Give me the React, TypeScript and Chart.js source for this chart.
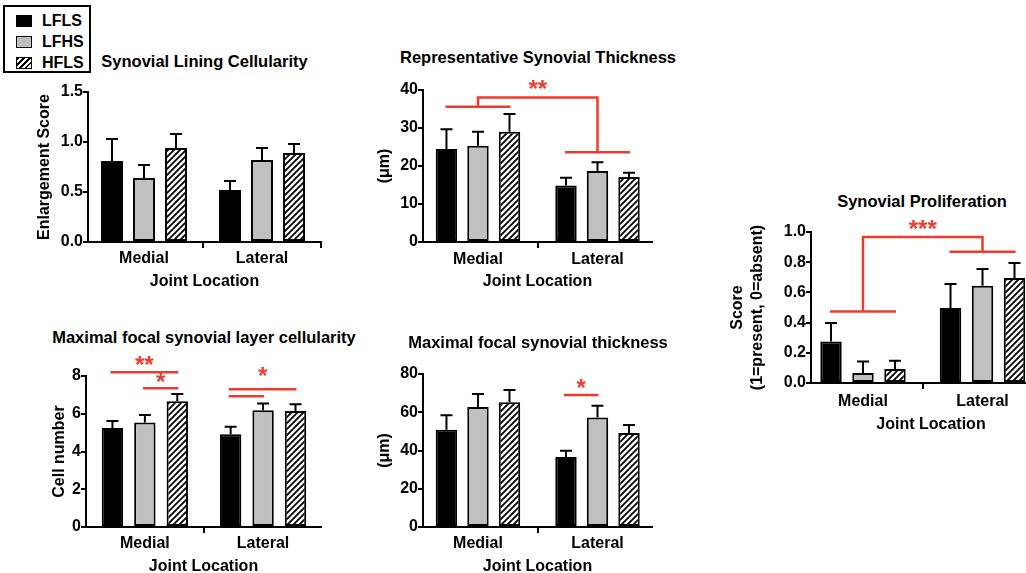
import React, { useEffect, useRef } from 'react';
import { Chart, registerables } from 'chart.js';

Chart.register(...registerables);

const FONT = '"Liberation Sans", Arial, Helvetica, sans-serif';
const RED = '#ef3b2c';
const GRAY = '#c0c0c0';
Chart.defaults.font.family = FONT;

// ---------- data ----------
const groups = ['LFLS', 'LFHS', 'HFLS'];
const locations = ['Medial', 'Lateral'];
const xAxisTitle = 'Joint Location';

// Synovial Lining Cellularity (rows: LFLS, LFHS, HFLS; cols: Medial, Lateral)
const liningMeans = [[0.81, 0.52], [0.64, 0.82], [0.94, 0.89]];
const liningErrors = [[0.22, 0.09], [0.13, 0.12], [0.14, 0.09]];
const liningTicks = [0, 0.5, 1.0, 1.5];

// Representative Synovial Thickness
const thicknessMeans = [[24.5, 14.9], [25.3, 18.7], [29.0, 17.1]];
const thicknessErrors = [[5.2, 2.0], [3.7, 2.3], [4.7, 1.1]];
const thicknessTicks = [0, 10, 20, 30, 40];
const thicknessSig = [{ kind: 'group', y: 38.0, leftY: 35.6, rightY: 23.6, label: '**', labelY: 40.8 }];

// Synovial Proliferation
const prolifMeans = [[0.275, 0.497], [0.066, 0.644], [0.093, 0.695]];
const prolifErrors = [[0.122, 0.159], [0.077, 0.111], [0.055, 0.1]];
const prolifTicks = [0, 0.2, 0.4, 0.6, 0.8, 1.0];
const prolifSig = [{ kind: 'group', y: 0.967, leftY: 0.474, rightY: 0.87, label: '***', labelY: 1.03 }];

// Maximal focal synovial layer cellularity
const focalCellMeans = [[5.24, 4.91], [5.54, 6.19], [6.66, 6.15]];
const focalCellErrors = [[0.37, 0.40], [0.39, 0.35], [0.38, 0.35]];
const focalCellTicks = [0, 2, 4, 6, 8];
const focalCellSig = [
  { kind: 'line', cat: 0, from: 0, to: 2, y: 8.2, label: '**', labelY: 8.67 },
  { kind: 'line', cat: 0, from: 1, to: 2, y: 7.35, label: '*', labelY: 7.77 },
  { kind: 'line', cat: 1, from: 0, to: 2, y: 7.3, label: '*', labelY: 8.12 },
  { kind: 'line', cat: 1, from: 0, to: 1, y: 6.93 },
];

// Maximal focal synovial thickness
const focalThickMeans = [[50.9, 36.6], [62.7, 57.3], [65.2, 49.2]];
const focalThickErrors = [[7.5, 3.3], [6.8, 6.1], [6.4, 4.1]];
const focalThickTicks = [0, 20, 40, 60, 80];
const focalThickSig = [{ kind: 'line', cat: 1, from: 0, to: 1, y: 69.0, label: '*', labelY: 73.5 }];

// ---------- panels (layout kept separate from data) ----------
type Sig = { kind: string; y: number; leftY?: number; rightY?: number; cat?: number; from?: number; to?: number; label?: string; labelY?: number };
type Panel = {
  title: string; yTitle: string | string[]; means: number[][]; errors: number[][]; ticks: number[]; decimals: number; sig: Sig[];
  titleX: number; titleY: number;
  left: number; top: number; width: number; height: number;
  yWidth: number; yTitlePad: number; xHeight: number; xTickPad: number; rightPad: number;
  xMin: number; xMax: number; catPct: number; barPct: number;
};

const TOP_PAD = 20;

const panels: Panel[] = [
  {
    title: 'Synovial Lining Cellularity', yTitle: 'Enlargement Score', means: liningMeans, errors: liningErrors, ticks: liningTicks, decimals: 1, sig: [],
    titleX: 204.5, titleY: 61,
    left: 0, top: 72, width: 330, height: 218, yWidth: 88, yTitlePad: 35.4, xHeight: 48, xTickPad: 3, rightPad: 9,
    xMin: -0.4746, xMax: 1.5, catPct: 0.8136, barPct: 0.6875,
  },
  {
    title: 'Representative Synovial Thickness', yTitle: '(μm)', means: thicknessMeans, errors: thicknessErrors, ticks: thicknessTicks, decimals: 0, sig: thicknessSig,
    titleX: 538, titleY: 57,
    left: 360, top: 70, width: 302, height: 220, yWidth: 63, yTitlePad: 15.4, xHeight: 48, xTickPad: 4, rightPad: 10,
    xMin: -0.46, xMax: 1.456, catPct: 0.791, barPct: 0.68,
  },
  {
    title: 'Synovial Proliferation', yTitle: ['Score', '(1=present, 0=absent)'], means: prolifMeans, errors: prolifErrors, ticks: prolifTicks, decimals: 1, sig: prolifSig,
    titleX: 922, titleY: 200.5,
    left: 720, top: 212, width: 331, height: 221, yWidth: 91, yTitlePad: 8.4, xHeight: 50, xTickPad: 5, rightPad: 0,
    xMin: -0.435, xMax: 1.573, catPct: 0.803, barPct: 0.67,
  },
  {
    title: 'Maximal focal synovial layer cellularity', yTitle: 'Cell number', means: focalCellMeans, errors: focalCellErrors, ticks: focalCellTicks, decimals: 0, sig: focalCellSig,
    titleX: 204, titleY: 337,
    left: 0, top: 356, width: 330, height: 219, yWidth: 86, yTitlePad: 50.4, xHeight: 48, xTickPad: 3, rightPad: 9,
    xMin: -0.498, xMax: 1.49, catPct: 0.823, barPct: 0.66,
  },
  {
    title: 'Maximal focal synovial thickness', yTitle: '(μm)', means: focalThickMeans, errors: focalThickErrors, ticks: focalThickTicks, decimals: 0, sig: focalThickSig,
    titleX: 538, titleY: 342,
    left: 360, top: 354, width: 302, height: 221, yWidth: 63, yTitlePad: 15.4, xHeight: 48, xTickPad: 3, rightPad: 10,
    xMin: -0.46, xMax: 1.456, catPct: 0.791, barPct: 0.68,
  },
];

function makeHatch(ctx: CanvasRenderingContext2D) {
  const c = document.createElement('canvas');
  c.width = 6; c.height = 6;
  const g = c.getContext('2d')!;
  g.fillStyle = '#fff';
  g.fillRect(0, 0, 6, 6);
  g.strokeStyle = '#000';
  g.lineWidth = 1.8;
  g.beginPath();
  g.moveTo(0, 6); g.lineTo(6, 0);
  g.moveTo(-1, 1); g.lineTo(1, -1);
  g.moveTo(5, 7); g.lineTo(7, 5);
  g.stroke();
  return ctx.createPattern(c, 'repeat');
}

function BarPanel({ p }: { p: Panel }) {
  const ref = useRef<HTMLCanvasElement>(null);
  useEffect(() => {
    const canvas = ref.current!;
    const ctx = canvas.getContext('2d')!;
    const fills: any[] = ['#000', GRAY, makeHatch(ctx)];
    const tickFont = { family: FONT, size: 16, weight: 'bold' as const, lineHeight: 1 };
    const overlay = {
      id: 'overlay',
      afterDraw(chart: any) {
        const c = chart.ctx;
        const xs = chart.scales.x;
        const ys = chart.scales.y;
        const barX = (cat: number, d: number) => chart.getDatasetMeta(d).data[cat].x;
        c.save();
        // error bars (upper whisker only)
        c.strokeStyle = '#000';
        c.lineWidth = 2;
        p.means.forEach((vals, d) => {
          vals.forEach((v, i) => {
            const bx = barX(i, d);
            const y0 = ys.getPixelForValue(v);
            const y1 = ys.getPixelForValue(v + p.errors[d][i]);
            c.beginPath();
            c.moveTo(bx, y0); c.lineTo(bx, y1);
            c.moveTo(bx - 6, y1); c.lineTo(bx + 6, y1);
            c.stroke();
          });
        });
        // significance marks
        c.strokeStyle = RED;
        c.fillStyle = RED;
        c.lineWidth = 2.5;
        c.font = `bold 24px ${FONT}`;
        c.textAlign = 'center';
        c.textBaseline = 'alphabetic';
        for (const s of p.sig) {
          let mid = 0;
          if (s.kind === 'group') {
            const lx = xs.getPixelForValue(0);
            const rx = xs.getPixelForValue(1);
            const ty = ys.getPixelForValue(s.y);
            const ly = ys.getPixelForValue(s.leftY);
            const ry = ys.getPixelForValue(s.rightY);
            c.beginPath();
            c.moveTo(barX(0, 0) - 1, ly); c.lineTo(barX(0, 2) + 1, ly);
            c.moveTo(lx, ly); c.lineTo(lx, ty); c.lineTo(rx, ty); c.lineTo(rx, ry);
            c.moveTo(barX(1, 0) - 1, ry); c.lineTo(barX(1, 2) + 1, ry);
            c.stroke();
            mid = (lx + rx) / 2;
          } else {
            const a = barX(s.cat!, s.from!) - 2;
            const b = barX(s.cat!, s.to!) + 1;
            const yy = ys.getPixelForValue(s.y);
            c.beginPath();
            c.moveTo(a, yy); c.lineTo(b, yy);
            c.stroke();
            mid = (a + b) / 2;
          }
          if (s.label) {
            c.fillText(s.label, mid, ys.getPixelForValue(s.labelY) + 10);
          }
        }
        c.restore();
      },
    };
    const chart = new Chart(ctx, {
      type: 'bar',
      data: {
        datasets: groups.map((g, d) => ({
          label: g,
          data: locations.map((_, i) => ({ x: i, y: p.means[d][i] })),
          backgroundColor: fills[d],
          borderColor: '#000',
          borderWidth: 2,
          borderSkipped: false,
          categoryPercentage: p.catPct,
          barPercentage: p.barPct,
        })),
      },
      options: {
        responsive: false,
        animation: false,
        devicePixelRatio: 1,
        layout: { padding: { left: 0, right: p.rightPad, top: TOP_PAD, bottom: 0 } },
        plugins: {
          legend: { display: false },
          tooltip: { enabled: false },
          title: { display: false },
        },
        scales: {
          x: {
            type: 'linear',
            min: p.xMin,
            max: p.xMax,
            offset: false,
            afterBuildTicks: (s: any) => { s.ticks = locations.map((_, i) => ({ value: i })); },
            afterFit: (s: any) => { s.height = p.xHeight; },
            grid: { drawOnChartArea: false, drawTicks: true, tickLength: 6, color: '#000', lineWidth: 2 },
            border: { display: true, color: '#000', width: 2 },
            ticks: {
              callback: (v: any) => locations[Math.round(Number(v))],
              color: '#000',
              font: tickFont,
              padding: p.xTickPad,
              maxRotation: 0,
              autoSkip: false,
            },
            title: {
              display: true,
              text: xAxisTitle,
              color: '#000',
              font: { family: FONT, size: 16, weight: 'bold', lineHeight: 1 },
              padding: 0,
            },
          },
          y: {
            min: p.ticks[0],
            max: p.ticks[p.ticks.length - 1],
            afterBuildTicks: (s: any) => { s.ticks = p.ticks.map((v) => ({ value: v })); },
            afterFit: (s: any) => { s.width = p.yWidth; },
            grid: { drawOnChartArea: false, drawTicks: true, tickLength: 5, color: '#000', lineWidth: 2 },
            border: { display: true, color: '#000', width: 2 },
            ticks: {
              callback: (v: any) => Number(v).toFixed(p.decimals),
              color: '#000',
              font: tickFont,
              padding: 0,
            },
            title: {
              display: true,
              text: p.yTitle as any,
              color: '#000',
              font: { family: FONT, size: 16, weight: 'bold', lineHeight: 1.2 },
              padding: { top: p.yTitlePad, bottom: 0 },
            },
          },
        },
      } as any,
      plugins: [overlay],
    });
    return () => chart.destroy();
  }, [p]);
  return (
    <>
      <canvas
        ref={ref}
        width={p.width}
        height={p.height}
        style={{ position: 'absolute', left: p.left, top: p.top, width: p.width, height: p.height }}
      />
      <div
        style={{
          position: 'absolute', left: p.titleX - 250, width: 500, top: p.titleY - 9, textAlign: 'center',
          fontFamily: FONT, fontWeight: 'bold', fontSize: 16.5, lineHeight: '18px', color: '#000', whiteSpace: 'nowrap',
        }}
      >
        {p.title}
      </div>
    </>
  );
}

const swatchFills = ['#000', GRAY, `repeating-linear-gradient(135deg, #000 0px, #000 1.5px, #fff 1.5px, #fff 4.2px)`];
const legendRowTops = [13, 34, 55];

function Legend() {
  return (
    <div
      style={{
        position: 'absolute', left: 3, top: 5, width: 88, height: 68, boxSizing: 'border-box',
        border: '2px solid #000', background: '#fff',
      }}
    >
      {groups.map((g, i) => (
        <React.Fragment key={g}>
          <div
            style={{
              position: 'absolute', left: 11, top: legendRowTops[i] - 5, width: 16, height: 12, boxSizing: 'border-box',
              border: '1.5px solid #000', background: swatchFills[i],
            }}
          />
          <div
            style={{
              position: 'absolute', left: 37, top: legendRowTops[i] - 7, fontFamily: FONT, fontWeight: 'bold',
              fontSize: 16, lineHeight: '16px', color: '#000', whiteSpace: 'nowrap',
            }}
          >
            {g}
          </div>
        </React.Fragment>
      ))}
    </div>
  );
}

export default function App() {
  return (
    <div style={{ position: 'fixed', left: 0, top: 0, width: 1026, height: 573, overflow: 'hidden', background: '#fff' }}>
      {panels.map((p, i) => (
        <BarPanel key={i} p={p} />
      ))}
      <Legend />
    </div>
  );
}
